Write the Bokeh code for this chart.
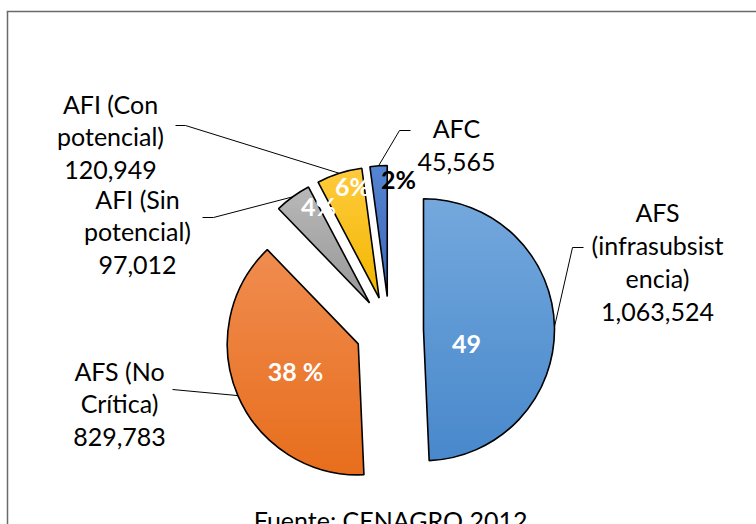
import numpy as np
from bokeh.plotting import figure
from bokeh.models import Range1d
from bokeh.core.properties import value
from bokeh.embed import file_html
from bokeh.resources import INLINE

# ---------------- data ----------------
categories = ["AFS (infrasubsistencia)", "AFS (No Crítica)", "AFI (Sin potencial)",
              "AFI (Con potencial)", "AFC"]
values = [1063524, 829783, 97012, 120949, 45565]
name_labels = ["AFS\n(infrasubsist\nencia)", "AFS (No\nCrítica)", "AFI (Sin\npotencial)",
               "AFI (Con\npotencial)", "AFC"]
pct_labels = ["49", "38 %", "4%", "6%", "2%"]
source_note = "Fuente: CENAGRO 2012."

# ---------------- style / layout ----------------
grad_top = ["#74a8dd", "#f08c50", "#b8b8b8", "#ffca3c", "#5584d2"]
grad_bot = ["#4888cb", "#e76e1c", "#979797", "#f2b700", "#3a66b6"]
pct_colors = ["white", "white", "white", "white", "black"]
FONT = "Lato"
FS = "25px"

W, H = 756, 524
def Y(py):               # picture y -> data y
    return H - py

CX, CY = 389, 330        # pie centre (px)
R = 131                  # radius (px)
EXPLODE = 34             # explosion distance (px)

# label anchors (px): text block centre, leader start, leader elbow
label_pos = [(657, 261), (119, 403), (137, 231), (110, 136), (456, 144)]
leader_start = [(583, 247), (172, 389), (202, 217), (175, 125), (410, 130)]
leader_elbow = [(572, 247), (172, 389), (213, 217), (185, 125), (399, 130)]
pct_pos = [(466, 343), (295, 370), (318, 205), (352, 185), (398, 178)]

# ---------------- geometry ----------------
vals = np.array(values, dtype=float)
frac = vals / vals.sum()
ends = np.cumsum(frac) * 360.0        # clockwise from 12 o'clock
starts = ends - frac * 360.0
mids = (starts + ends) / 2.0

ax = CX + EXPLODE * np.sin(np.radians(mids))
ay = Y(CY) + EXPLODE * np.cos(np.radians(mids))


def hex2rgb(h):
    h = h.lstrip("#")
    return np.array([int(h[i:i + 2], 16) for i in (0, 2, 4)], dtype=float)


def rgb2hex(c):
    return "#%02x%02x%02x" % tuple(int(round(v)) for v in c)


def clip(poly, yv, keep_above):
    out = []
    n = len(poly)
    for i in range(n):
        p1 = poly[i]
        p2 = poly[(i + 1) % n]
        in1 = (p1[1] >= yv) if keep_above else (p1[1] <= yv)
        in2 = (p2[1] >= yv) if keep_above else (p2[1] <= yv)
        if in1:
            out.append(p1)
        if in1 != in2:
            t = (yv - p1[1]) / (p2[1] - p1[1])
            out.append((p1[0] + t * (p2[0] - p1[0]), yv))
    return out


p = figure(width=W, height=H, x_range=Range1d(0, W), y_range=Range1d(0, H),
           output_backend="svg", toolbar_location=None, min_border=0,
           x_axis_type=None, y_axis_type=None)
p.grid.visible = False
p.outline_line_color = None
p.background_fill_color = "white"
p.border_fill_color = "white"

# chart border (left and top visible)
p.multi_line(xs=[[7, 7], [6.25, 800]], ys=[[-50, Y(11)], [Y(11), Y(11)]],
             line_color="#6a6a6a", line_width=1.5)

# gradient-filled slices built from horizontal bands
band_xs, band_ys, band_cols = [], [], []
for i in range(len(values)):
    a = np.radians(np.linspace(starts[i], ends[i], 120))
    poly = [(ax[i], ay[i])] + [(ax[i] + R * np.sin(t), ay[i] + R * np.cos(t)) for t in a]
    ymin = min(q[1] for q in poly)
    ymax = max(q[1] for q in poly)
    c_top, c_bot = hex2rgb(grad_top[i]), hex2rgb(grad_bot[i])
    step = 3.0
    yb = ymin
    while yb < ymax:
        y0, y1 = yb - 0.6, min(yb + step, ymax) + 0.6
        pc = clip(clip(poly, y0, True), y1, False)
        if len(pc) >= 3:
            t = 1 - ((yb + step / 2) - ymin) / (ymax - ymin)
            t = min(max(t, 0), 1)
            band_xs.append([q[0] for q in pc])
            band_ys.append([q[1] for q in pc])
            band_cols.append(rgb2hex(c_top + (c_bot - c_top) * t))
        yb += step
p.patches(xs=band_xs, ys=band_ys, fill_color=band_cols, line_color=None)

p.wedge(x=ax, y=ay, radius=R,
        start_angle=np.radians(90 - ends), end_angle=np.radians(90 - starts),
        direction="anticlock", fill_color=None, line_color="black", line_width=1.6)

# leader lines
xs, ys = [], []
for i in range(len(values)):
    ex = ax[i] + R * np.sin(np.radians(mids[i]))
    ey = ay[i] + R * np.cos(np.radians(mids[i]))
    xs.append([leader_start[i][0], leader_elbow[i][0], ex])
    ys.append([Y(leader_start[i][1]), Y(leader_elbow[i][1]), ey])
p.multi_line(xs=xs, ys=ys, line_color="black", line_width=1)

# category labels
texts = [f"{n}\n{v:,}" for n, v in zip(name_labels, values)]
p.text(x=[q[0] for q in label_pos], y=[Y(q[1]) for q in label_pos], text=texts,
       text_font=value(FONT), text_font_size=FS, text_color="black",
       text_align="center", text_baseline="middle", text_line_height=1.09)

# percent labels
p.text(x=[q[0] for q in pct_pos], y=[Y(q[1]) for q in pct_pos], text=pct_labels,
       text_font=value(FONT), text_font_size=FS, text_font_style="bold",
       text_color=pct_colors, text_align="center", text_baseline="middle")

# source note
p.text(x=[393], y=[Y(519)], text=[source_note], text_font=value(FONT),
       text_font_size=FS, text_color="black", text_align="center",
       text_baseline="middle")

open("out.html", "w").write(file_html(p, INLINE))
